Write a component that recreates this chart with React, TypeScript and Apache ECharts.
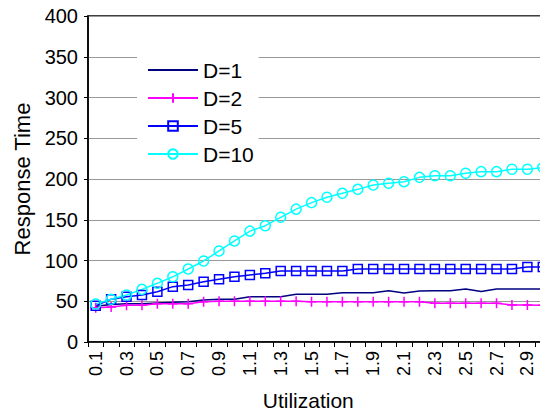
import React, { useEffect, useRef } from "react";
import * as echarts from "echarts";

const categories = [
  "0.1", "0.2", "0.3", "0.4", "0.5", "0.6", "0.7", "0.8", "0.9", "1.0",
  "1.1", "1.2", "1.3", "1.4", "1.5", "1.6", "1.7", "1.8", "1.9", "2.0",
  "2.1", "2.2", "2.3", "2.4", "2.5", "2.6", "2.7", "2.8", "2.9", "3.0",
];

const d1 = [44, 46, 47, 47, 48, 48.7, 49.5, 51.5, 52.4, 52.4, 55.6, 55.6, 55.6, 58.5, 58.5, 58.5, 60.5, 60.5, 60.5, 63, 60, 62.6, 63, 63, 65, 62, 65, 65, 65, 65];
const d2 = [42, 43, 45, 45, 47, 47, 47, 49.5, 50, 50, 50, 50, 50, 50, 49.5, 49.5, 49.5, 49.5, 49.5, 49.5, 49.5, 49.5, 47.5, 47.5, 47.5, 47.5, 47.5, 45.4, 45.4, 45];
const d5 = [44.6, 52.4, 55.6, 57.7, 61.7, 67.9, 70, 74, 77, 80, 82.2, 84.3, 87, 87, 87, 87, 87, 89.6, 89.6, 89.6, 89.6, 89.6, 89.6, 89.6, 89.6, 89.6, 89.6, 89.6, 92, 92];
const d10 = [46.6, 52.4, 57.7, 64.6, 72, 80, 89.6, 99.4, 111.7, 124, 136, 142.7, 153, 163, 171, 177.6, 182.4, 187.3, 192.6, 194.7, 196.7, 202, 204, 204, 207, 209, 209, 212, 212, 214];

const seriesNames = ["D=1", "D=2", "D=5", "D=10"];
const yTicks = { min: 0, max: 400, interval: 50 };

const FONT = "'Liberation Sans', Arial, sans-serif";

export default function App() {
  const ref = useRef<HTMLDivElement>(null);
  useEffect(() => {
    if (!ref.current) return;
    const chart = echarts.init(ref.current, null, { renderer: "svg" });
    const plus = "path://M5,0 L5,10 M0,5 L10,5";
    chart.setOption({
      animation: false,
      backgroundColor: "#fff",
      textStyle: { fontFamily: FONT },
      grid: {
        left: 88,
        top: 16,
        right: 0.5,
        bottom: 77,
        show: true,
        borderColor: "#000",
        borderWidth: 1.5,
        backgroundColor: "#fff",
      },
      legend: {
        orient: "vertical",
        left: 137,
        top: 49.5,
        padding: [10, 5, 10, 10],
        backgroundColor: "#fff",
        itemWidth: 50,
        itemHeight: 12,
        itemGap: 7,
        itemTextGap: 6,
        textStyle: { fontSize: 21, lineHeight: 21, color: "#000", fontFamily: FONT },
        data: seriesNames,
      },
      xAxis: {
        type: "category",
        data: categories,
        boundaryGap: true,
        name: "Utilization",
        nameLocation: "middle",
        nameGap: 48,
        nameTextStyle: { fontSize: 21, color: "#000", fontFamily: FONT, padding: [0, 22, 0, 0] },
        axisLine: { lineStyle: { color: "#000", width: 1.5 } },
        axisTick: { show: true, interval: 0, length: 5, lineStyle: { color: "#000" } },
        axisLabel: { interval: 1, rotate: 90, fontSize: 18, color: "#000", margin: 9, fontFamily: FONT },
        splitLine: { show: false },
      },
      yAxis: {
        type: "value",
        min: yTicks.min,
        max: yTicks.max,
        interval: yTicks.interval,
        name: "Response Time",
        nameLocation: "middle",
        nameGap: 52,
        nameTextStyle: { fontSize: 22, color: "#000", fontFamily: FONT },
        axisLine: { show: true, lineStyle: { color: "#000", width: 1.5 } },
        axisTick: { show: true, length: 4, lineStyle: { color: "#000" } },
        axisLabel: { fontSize: 20, color: "#000", margin: 10, fontFamily: FONT },
        splitLine: { show: true, lineStyle: { color: "#999", width: 1 } },
      },
      series: [
        {
          name: seriesNames[0],
          type: "line",
          data: d1,
          symbol: "circle",
          showSymbol: false,
          color: "#000080",
          lineStyle: { color: "#000080", width: 1.5 },
          itemStyle: { color: "transparent", borderColor: "transparent", borderWidth: 0 },
        },
        {
          name: seriesNames[1],
          type: "line",
          data: d2,
          symbol: plus,
          symbolSize: 10,
          color: "#ff00ff",
          lineStyle: { color: "#ff00ff", width: 1.5 },
          itemStyle: { color: "none", borderColor: "#ff00ff", borderWidth: 1.5 },
        },
        {
          name: seriesNames[2],
          type: "line",
          data: d5,
          symbol: "rect",
          symbolSize: 9,
          color: "#0000ff",
          lineStyle: { color: "#0000ff", width: 1.5 },
          itemStyle: { color: "none", borderColor: "#0000ff", borderWidth: 1.5 },
        },
        {
          name: seriesNames[3],
          type: "line",
          data: d10,
          symbol: "circle",
          symbolSize: 10,
          color: "#00ffff",
          lineStyle: { color: "#00ffff", width: 1.5 },
          itemStyle: { color: "none", borderColor: "#00ffff", borderWidth: 1.5 },
        },
      ],
    });
    return () => chart.dispose();
  }, []);
  return (
    <div style={{ position: "absolute", left: 0, top: 0, width: 540, height: 419, overflow: "hidden" }}>
      <div ref={ref} style={{ width: 551, height: 419 }} />
    </div>
  );
}
